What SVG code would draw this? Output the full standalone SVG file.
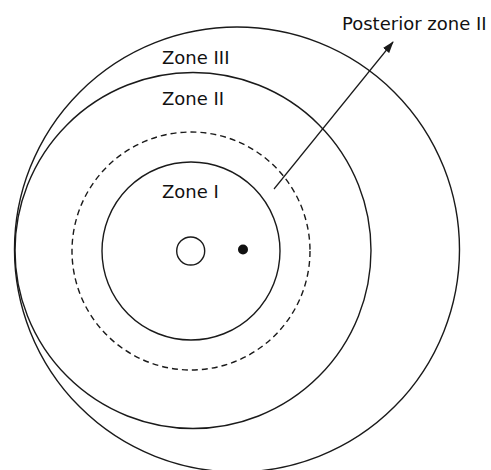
<svg xmlns="http://www.w3.org/2000/svg" width="491" height="470" viewBox="0 0 491 470">
<style>
.ring{fill:none;stroke:#1a1a1a;stroke-width:1.4}
.dash{stroke-dasharray:6 4}
.lbl{font-family:"DejaVu Sans",sans-serif;font-size:18px;fill:#111}
</style>
<defs>
<marker id="ah" markerWidth="12" markerHeight="8" refX="11" refY="4" orient="auto" markerUnits="userSpaceOnUse">
<path d="M0,0 L12,4 L0,8 Z" fill="#1a1a1a"/>
</marker>
</defs>
<rect width="491" height="470" fill="#fff"/>
<g id="zone3"><circle class="ring" cx="237" cy="249.5" r="222.5"/><text class="lbl" x="162" y="64">Zone III</text></g>
<g id="zone2"><circle class="ring" cx="193" cy="250.5" r="178"/><text class="lbl" x="162" y="105">Zone II</text></g>
<g id="posterior"><circle class="ring dash" cx="191" cy="251" r="119"/><text class="lbl" x="342" y="30">Posterior zone II</text></g>
<g id="zone1"><circle class="ring" cx="191" cy="251" r="89"/><text class="lbl" x="162" y="198">Zone I</text></g>
<g id="disc"><circle class="ring" cx="190.7" cy="251" r="14"/></g>
<g id="fovea"><circle cx="243" cy="249.5" r="5" fill="#111"/></g>
<g id="connectors"><line x1="274" y1="189" x2="393" y2="42" stroke="#1a1a1a" stroke-width="1.2" marker-end="url(#ah)"/></g>
</svg>
